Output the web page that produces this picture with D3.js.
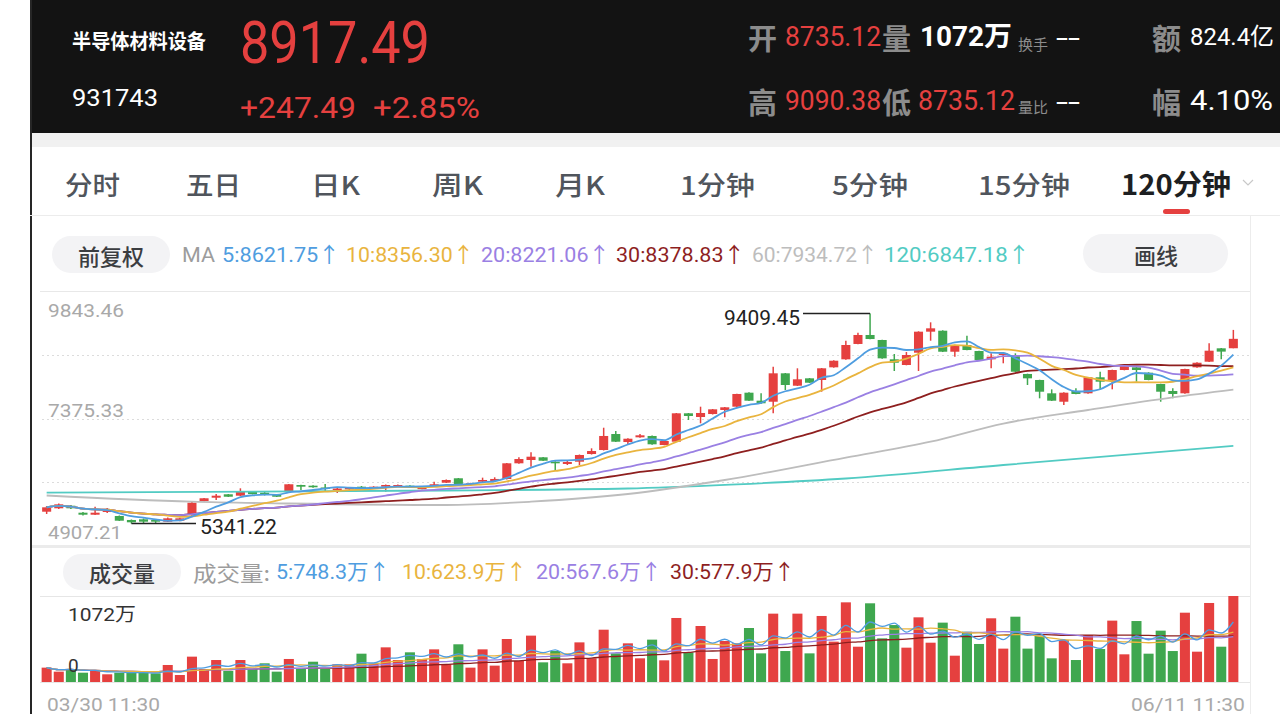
<!DOCTYPE html>
<html>
<head>
<meta charset="utf-8">
<script src="https://cdn.jsdelivr.net/npm/d3@7"></script>
<style>
  body { margin: 0; background: #fff; }
  svg { display: block; }
</style>
</head>
<body>
<svg id="chart"></svg>
<script>
// ---- data ----
const opens = [5571,5637,5687,5552,5513,5575,5488,5411,5424,5411,5378,5397,5507,5778,5842,5908,5881,5958,5939,5908,
  5972,6088,6075,6040,6001,6004,6055,6036,6055,6055,6075,6016,6055,6133,6218,6094,6152,6166,6204,6508,
  6572,6624,6539,6495,6539,6688,6765,7075,6920,7011,7037,6862,6926,7476,7404,7462,7540,7604,7875,7720,
  7700,8250,8010,8153,8121,8366,8521,8818,8992,8895,8521,8411,8649,9056,9075,8668,8798,8682,8521,8604,
  8604,8237,8121,7863,7700,7908,7863,8173,8107,8314,8366,8262,8043,7908,7863,8366,8475,8734,8735.12];
const highs = [5682,5730,5701,5565,5668,5643,5498,5420,5440,5420,5459,5455,5759,5836,5914,5914,6024,5966,5952,5914,
  6107,6092,6082,6107,6030,6049,6068,6064,6098,6098,6082,6049,6152,6195,6224,6131,6230,6237,6514,6624,
  6721,6630,6547,6553,6678,6798,7197,7133,6992,7075,7046,6949,7482,7482,7604,7559,7598,7855,7882,7863,
  8378,8256,8347,8159,8353,8502,8881,9036,9409.45,8901,8624,8662,9063,9237,9083,8804,8978,8688,8637,8649,
  8637,8243,8126,7940,7882,7963,8179,8281,8320,8397,8382,8270,8049,7963,8339,8463,8831,8740,9090.38];
const lows = [5527,5623,5623,5498,5507,5546,5391,5341.22,5353,5353,5372,5384,5488,5769,5798,5856,5875,5904,5885,5856,
  5962,5991,6036,5958,5933,5991,6016,6030,5958,6049,6030,6004,6049,6127,6098,6082,6146,6160,6195,6500,
  6442,6553,6365,6475,6475,6678,6756,6920,6882,7004,6868,6857,6920,7346,7282,7453,7399,7598,7714,7662,
  7476,7927,8004,8063,7894,8359,8513,8812,8909,8533,8295,8405,8295,8881,8662,8572,8695,8502,8347,8444,
  8275,8024,7766,7714,7637,7844,7855,7940,7940,8308,8088,8115,7700,7766,7855,8359,8469,8521,8735.12];
const closes = [5656,5714,5637,5513,5552,5594,5397,5366,5378,5378,5443,5443,5745,5831,5881,5861,5958,5914,5895,5861,
  6102,6055,6044,6020,6020,6036,6024,6055,6088,6088,6036,6036,6102,6185,6107,6121,6185,6205,6508,6591,
  6636,6558,6508,6533,6669,6746,7037,6926,6984,7050,6876,6940,7476,7424,7482,7553,7592,7850,7720,7670,
  8250,8024,8134,8068,8347,8494,8798,8992,8914,8540,8455,8604,9056,9121,8668,8798,8701,8508,8572,8637,
  8281,8153,7894,7720,7875,7850,8173,8088,8314,8391,8314,8121,7894,7850,8333,8455,8688,8670,8917.49];
// volume, in 万
const volumes = [179,129,162,116,137,96,116,116,116,108,212,87,316,162,274,137,274,162,233,129,
  287,162,253,162,220,220,353,229,432,274,370,287,407,220,470,179,407,204,536,262,
  578,245,386,233,494,295,652,357,482,295,528,270,798,370,698,287,511,482,673,357,
  852,386,852,357,823,503,993,440,981,544,710,428,806,490,740,328,627,474,794,416,
  814,416,578,295,524,274,586,411,765,345,760,353,640,386,864,378,985,440,1072];

// long averages whose window starts before the visible range
const ma60At = [0, 12, 20, 33, 40, 48, 56, 66, 73, 79, 86, 93, 98];
const ma60Values = [5885, 5765, 5730, 5701, 5765, 5914, 6185, 6620, 6926, 7278, 7540, 7786, 7934.72];
const ma120At = [0, 33, 48, 57, 66, 79, 98];
const ma120Values = [5939, 5982, 6020, 6101, 6214, 6475, 6847.18];

const priceTicks = [4907.21, 7375.33, 9843.46];
const volumeTicks = [0, 1072];
const timeLabels = ["03/30 11:30", "06/11 11:30"];

const maPeriods = [5, 10, 20, 30, 60, 120];
const maLast = ["8621.75", "8356.30", "8221.06", "8378.83", "7934.72", "6847.18"];
const volMaPeriods = [5, 10, 20, 30];
const volMaLast = ["748.3", "623.9", "567.6", "577.9"];

const tabs = ["分时", "五日", "日K", "周K", "月K", "1分钟", "5分钟", "15分钟", "120分钟"];

// ---- layout ----
const W = 1280, H = 714;
const RED = "#e5403f", GREEN = "#3fa74f";
const maColors = ["#4f9de0", "#e9b43e", "#9a80e3", "#8e1f1f", "#bdbdbd", "#52cbc3"];
const CJK = "'Noto Sans CJK SC', sans-serif";
const NUM = "Roboto, 'Noto Sans CJK SC', sans-serif";

const svg = d3.select("#chart").attr("width", W).attr("height", H);

function label(x, y, str, size, color, opt = {}) {
  const t = svg.append("text")
    .attr("x", x).attr("y", y)
    .attr("font-size", size)
    .attr("fill", color)
    .attr("font-family", opt.family || NUM)
    .attr("font-weight", opt.weight || 400)
    .attr("dominant-baseline", "central")
    .attr("text-anchor", opt.anchor || "start")
    .text(str);
  if (opt.width) t.attr("textLength", opt.width).attr("lengthAdjust", "spacingAndGlyphs");
  return t;
}

// ---- header ----
svg.append("rect").attr("x", 30).attr("y", 0).attr("width", W - 30).attr("height", 133).attr("fill", "#131313");
svg.append("rect").attr("x", 30).attr("y", 133).attr("width", W - 30).attr("height", 14).attr("fill", "#f1f1f1");
svg.append("rect").attr("x", 30).attr("y", 0).attr("width", 2).attr("height", H).attr("fill", "#262626");

label(72, 40, "半导体材料设备", 20, "#fff", { family: CJK, weight: 700, width: 134 });
label(72, 98, "931743", 24, "#fff", { width: 86 });
label(240, 42, d3.format(".2f")(closes[closes.length - 1]), 60, RED, { width: 190 });
label(240, 107, "+247.49", 30, RED, { width: 116 });
label(373, 107, "+2.85%", 30, RED, { width: 107 });

const gray = "#8c8c8c";
label(748, 37, "开", 29, gray, { family: CJK, weight: 700 });
label(785, 37, d3.format(".2f")(opens[opens.length - 1]), 27, RED, { width: 96 });
label(882, 37, "量", 29, gray, { family: CJK, weight: 700 });
label(920, 37, "1072万", 27, "#fff", { weight: 700, width: 92 });
label(1018, 43, "换手", 15, gray, { family: CJK });
label(1056, 38, "--", 26, "#fff", { width: 24 });
label(1152, 37, "额", 29, gray, { family: CJK, weight: 700 });
label(1190, 37, "824.4亿", 24, "#fff", { width: 84 });

label(748, 101, "高", 29, gray, { family: CJK, weight: 700 });
label(785, 101, d3.format(".2f")(d3.max(highs.slice(-1))), 27, RED, { width: 96 });
label(882, 101, "低", 29, gray, { family: CJK, weight: 700 });
label(918, 101, d3.format(".2f")(d3.min(lows.slice(-1))), 27, RED, { width: 97 });
label(1018, 106, "量比", 15, gray, { family: CJK });
label(1056, 102, "--", 26, "#fff", { width: 24 });
label(1152, 101, "幅", 29, gray, { family: CJK, weight: 700 });
label(1190, 101, "4.10%", 27, "#fff", { width: 83 });

// ---- period tabs ----
const tabX = [65, 186, 311, 432, 555, 680, 832, 978, 1121];
const tabW = [55, 55, 49, 51, 50, 75, 76, 92, 110];
tabs.forEach((t, i) => {
  const active = i === tabs.length - 1;
  label(tabX[i], 183, t, active ? 28 : 26, active ? "#1d1f22" : "#50555c",
    { family: CJK, weight: active ? 700 : 500, width: tabW[i] });
});
svg.append("path").attr("d", "M1243,180 L1248,185 L1253,180").attr("fill", "none").attr("stroke", "#c8c8c8").attr("stroke-width", 1.2);
svg.append("rect").attr("x", 1163).attr("y", 209).attr("width", 27).attr("height", 5).attr("rx", 2.5).attr("fill", RED);
svg.append("line").attr("x1", 30).attr("x2", W).attr("y1", 215.5).attr("y2", 215.5).attr("stroke", "#ececec");
svg.append("line").attr("x1", 1250.5).attr("x2", 1250.5).attr("y1", 216).attr("y2", H).attr("stroke", "#ececec");

// ---- MA legend ----
function pill(x, y, w, h, text, cx) {
  svg.append("rect").attr("x", x).attr("y", y).attr("width", w).attr("height", h).attr("rx", h / 2).attr("fill", "#f3f3f5");
  label(cx, y + h / 2, text, 22, "#3b3d41", { family: CJK, weight: 500, anchor: "middle" });
}
pill(52, 236, 118, 37, "前复权", 111);
pill(1083, 234, 145, 39, "画线", 1156);
label(182, 255, "MA", 21, "#9c9c9c", { width: 33 });
const maLegX = [222, 346, 481, 616, 752, 884];
const maLegW = [118, 128, 129, 129, 126, 146];
maPeriods.forEach((p, i) => {
  label(maLegX[i], 255, `${p}:${maLast[i]}↑`, 21, maColors[i], { width: maLegW[i] });
});

// ---- price pane ----
const n = closes.length;
const x = d3.scaleBand().domain(d3.range(n)).range([40.6, 1239.4]).paddingInner(0.17).paddingOuter(0.085);
const cx = i => x(i) + x.bandwidth() / 2;
const y = d3.scaleLinear().domain([priceTicks[0], priceTicks[2]]).range([546, 291]);

const gridVals = d3.range(5).map(k => priceTicks[0] + (priceTicks[2] - priceTicks[0]) * k / 4);
svg.append("line").attr("x1", 40).attr("x2", 1250).attr("y1", 291.5).attr("y2", 291.5).attr("stroke", "#e8e8e8");
svg.selectAll(".grid").data(gridVals.slice(1, 4)).enter().append("line")
  .attr("x1", 42).attr("x2", 1250)
  .attr("y1", d => Math.round(y(d)) + 0.5).attr("y2", d => Math.round(y(d)) + 0.5)
  .attr("stroke", "#dcdcdc").attr("stroke-dasharray", "2,3");
svg.append("rect").attr("x", 32).attr("y", 545).attr("width", 1218).attr("height", 3).attr("fill", "#ebebeb");

const up = i => closes[i] >= opens[i];
const candles = svg.append("g");
candles.selectAll(".wick").data(d3.range(n)).enter().append("line")
  .attr("x1", cx).attr("x2", cx)
  .attr("y1", i => y(highs[i])).attr("y2", i => y(lows[i]))
  .attr("stroke", i => up(i) ? RED : GREEN).attr("stroke-width", 1.5);
candles.selectAll(".body").data(d3.range(n)).enter().append("rect")
  .attr("x", i => x(i) + 0.5).attr("width", x.bandwidth() - 1)
  .attr("y", i => y(Math.max(opens[i], closes[i])))
  .attr("height", i => Math.max(1.5, Math.abs(y(opens[i]) - y(closes[i]))))
  .attr("fill", i => up(i) ? RED : GREEN);

const movingAvg = (vals, p) => vals.map((v, i) => d3.mean(vals.slice(Math.max(0, i - p + 1), i + 1)));

const priceLine = d3.line().x((d, i) => cx(i)).y(d => y(d)).curve(d3.curveMonotoneX);
const sparseLine = d3.line().x(d => cx(d[0])).y(d => y(d[1])).curve(d3.curveMonotoneX);
svg.append("path").attr("d", sparseLine(d3.zip(ma120At, ma120Values)))
  .attr("fill", "none").attr("stroke", maColors[5]).attr("stroke-width", 1.8);
svg.append("path").attr("d", sparseLine(d3.zip(ma60At, ma60Values)))
  .attr("fill", "none").attr("stroke", maColors[4]).attr("stroke-width", 1.8);
[30, 20, 10, 5].forEach(p => {
  svg.append("path").attr("d", priceLine(movingAvg(closes, p)))
    .attr("fill", "none").attr("stroke", maColors[maPeriods.indexOf(p)]).attr("stroke-width", 1.8);
});

// axis labels
const tickGray = "#a9a9a9";
label(48, 310, d3.format(".2f")(priceTicks[2]), 19, tickGray, { width: 76 });
label(48, 410, d3.format(".2f")(priceTicks[1]), 19, tickGray, { width: 76 });
label(48, 532, d3.format(".2f")(priceTicks[0]), 19, tickGray, { width: 74 });

// high / low markers
const hiIdx = d3.maxIndex(highs), loIdx = d3.minIndex(lows);
svg.append("line").attr("x1", 803).attr("x2", cx(hiIdx)).attr("y1", y(highs[hiIdx])).attr("y2", y(highs[hiIdx]))
  .attr("stroke", "#222").attr("stroke-width", 1.5);
label(724, 318, d3.format(".2f")(highs[hiIdx]), 20, "#222", { width: 76 });
svg.append("line").attr("x1", cx(loIdx)).attr("x2", 196).attr("y1", y(lows[loIdx])).attr("y2", y(lows[loIdx]))
  .attr("stroke", "#222").attr("stroke-width", 1.5);
label(200, 527, d3.format(".2f")(lows[loIdx]), 20, "#222", { width: 77 });

// ---- volume pane ----
pill(63, 554, 118, 36, "成交量", 122);
label(193, 572, "成交量:", 21, "#9c9c9c", { family: CJK, width: 77 });
const volLegX = [276, 402, 536, 670];
const volLegW = [114, 125, 126, 125];
volMaPeriods.forEach((p, i) => {
  label(volLegX[i], 572, `${p}:${volMaLast[i]}万↑`, 21, maColors[i], { width: volLegW[i] });
});

const yv = d3.scaleLinear().domain(volumeTicks).range([682, 596]);
svg.append("line").attr("x1", 40).attr("x2", 1250).attr("y1", 596.5).attr("y2", 596.5).attr("stroke", "#e6e6e6");
svg.append("line").attr("x1", 40).attr("x2", 1250).attr("y1", 682.5).attr("y2", 682.5).attr("stroke", "#e6e6e6");

svg.append("g").selectAll("rect").data(volumes).enter().append("rect")
  .attr("x", (d, i) => x(i)).attr("width", x.bandwidth())
  .attr("y", d => yv(d)).attr("height", d => yv(0) - yv(d))
  .attr("fill", (d, i) => up(i) ? RED : GREEN);

const volLine = d3.line().x((d, i) => cx(i)).y(d => yv(d)).curve(d3.curveMonotoneX);
[30, 20, 10, 5].forEach(p => {
  svg.append("path").attr("d", volLine(movingAvg(volumes, p)))
    .attr("fill", "none").attr("stroke", maColors[volMaPeriods.indexOf(p)]).attr("stroke-width", 1.3);
});

label(68, 614, volumeTicks[1] + "万", 19, "#333", { width: 68 });
label(68, 665, String(volumeTicks[0]), 19, "#333");

label(47, 704, timeLabels[0], 19, tickGray, { width: 113 });
label(1131, 704, timeLabels[1], 19, tickGray, { width: 114 });
</script>
</body>
</html>
